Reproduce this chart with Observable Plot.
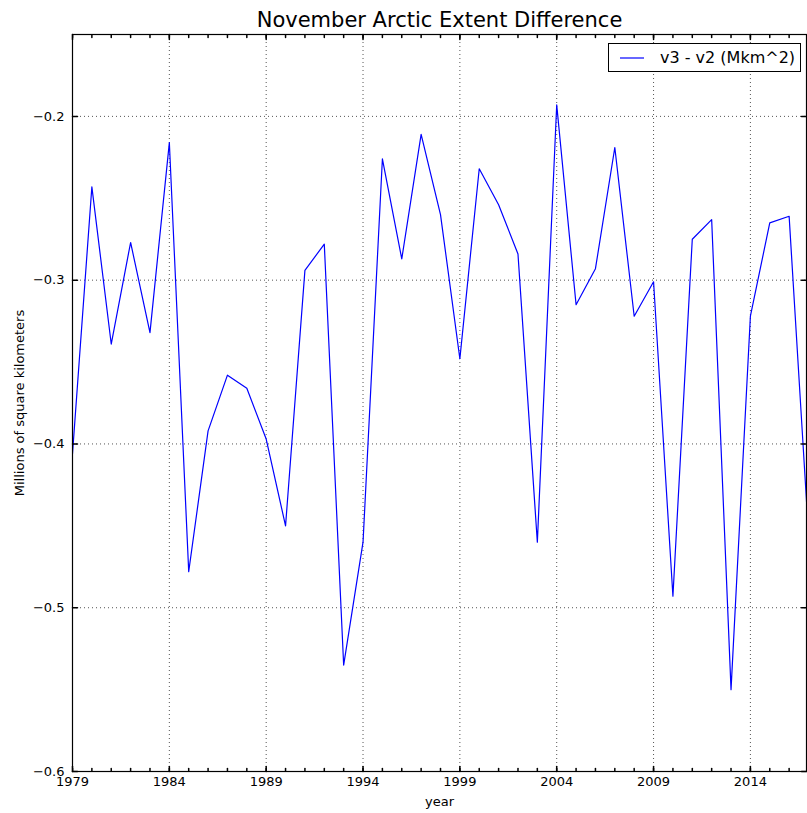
<!DOCTYPE html>
<html>
<head>
<meta charset="utf-8">
<script src="https://cdn.jsdelivr.net/npm/d3@7"></script>
<script src="https://cdn.jsdelivr.net/npm/@observablehq/plot@0.6"></script>
<style>
  html, body { margin: 0; padding: 0; background: #fff; }
  #wrap { position: relative; width: 807px; height: 813px; overflow: hidden; font-family: "DejaVu Sans", sans-serif; }
  #legend { position: absolute; left: 608px; top: 43px; width: 191px; height: 27px; border: 1px solid #000; background: #fff; display: flex; align-items: center; font-size: 16px; color: #000; }
  #legend svg { margin-left: 11px; margin-right: 16px; }
</style>
</head>
<body>
<div id="wrap"></div>
<script>
const years = [1979, 1980, 1981, 1982, 1983, 1984, 1985, 1986, 1987, 1988,
  1989, 1990, 1991, 1992, 1993, 1994, 1995, 1996, 1997, 1998,
  1999, 2000, 2001, 2002, 2003, 2004, 2005, 2006, 2007, 2008,
  2009, 2010, 2011, 2012, 2013, 2014, 2015, 2016, 2017];
const diffValues = [-0.406, -0.243, -0.339, -0.277, -0.332, -0.216, -0.478, -0.392, -0.358, -0.366,
  -0.397, -0.450, -0.294, -0.278, -0.535, -0.460, -0.226, -0.287, -0.211, -0.260,
  -0.348, -0.232, -0.254, -0.284, -0.460, -0.193, -0.315, -0.293, -0.219, -0.322,
  -0.301, -0.493, -0.275, -0.263, -0.550, -0.322, -0.265, -0.261, -0.455];
const xMajorTicks = [1979, 1984, 1989, 1994, 1999, 2004, 2009, 2014];
const xMinorTicks = years;
const yTicks = [-0.6, -0.5, -0.4, -0.3, -0.2];
const seriesName = "v3 - v2 (Mkm^2)";
const titleText = "November Arctic Extent Difference";
const xLabel = "year";
const yLabel = "Millions of square kilometers";

const data = years.map((y, i) => ({year: y, value: diffValues[i]}));

const tickShape = {draw(context, l) { context.moveTo(0, 0); context.lineTo(0, -l); }};
const grid = {stroke: "#555", strokeWidth: 1, strokeDasharray: "1,3"};

const chart = Plot.plot({
  width: 807,
  height: 813,
  marginLeft: 72,
  marginRight: 1,
  marginTop: 34,
  marginBottom: 42,
  style: {fontFamily: "DejaVu Sans, sans-serif", fontSize: "13px", color: "#000", background: "#fff"},
  x: {domain: [1979, 2017], range: [72, 808]},
  y: {domain: [-0.6, -0.15]},
  marks: [
    Plot.ruleX(xMajorTicks, {x: d => d, ...grid}),
    Plot.ruleY(yTicks, {y: d => d, ...grid}),
    Plot.line(data, {x: "year", y: "value", stroke: "#0000ff", strokeWidth: 1.2, clip: true}),
    Plot.frame({stroke: "#000", strokeWidth: 1.2}),
    // inward ticks
    Plot.vector(xMajorTicks, {x: d => d, frameAnchor: "bottom", length: 5, rotate: 0, anchor: "start", shape: tickShape, stroke: "#000"}),
    Plot.vector(xMajorTicks, {x: d => d, frameAnchor: "top", length: 5, rotate: 180, anchor: "start", shape: tickShape, stroke: "#000"}),
    Plot.vector(xMinorTicks, {x: d => d, frameAnchor: "bottom", length: 3, rotate: 0, anchor: "start", shape: tickShape, stroke: "#000", clip: true}),
    Plot.vector(xMinorTicks, {x: d => d, frameAnchor: "top", length: 3, rotate: 180, anchor: "start", shape: tickShape, stroke: "#000", clip: true}),
    Plot.vector(yTicks, {y: d => d, frameAnchor: "left", length: 5, rotate: 90, anchor: "start", shape: tickShape, stroke: "#000"}),
    Plot.vector(yTicks, {y: d => d, frameAnchor: "right", length: 5, rotate: -90, anchor: "start", shape: tickShape, stroke: "#000"}),
    // tick labels
    Plot.axisX({ticks: xMajorTicks, tickSize: 0, tickPadding: 5, tickFormat: d => String(d), label: null, fontSize: 13}),
    Plot.axisY({ticks: yTicks, tickSize: 0, tickPadding: 8, tickFormat: d => d3.format(".1f")(d), label: null, fontSize: 13}),
    // labels
    Plot.text([xLabel], {text: d => d, frameAnchor: "bottom", lineAnchor: "middle", textAnchor: "middle", dy: 30, fontSize: 13, fill: "#000"}),
    Plot.text([yLabel], {text: d => d, frameAnchor: "left", lineAnchor: "middle", textAnchor: "middle", dx: -53, rotate: -90, fontSize: 13, fill: "#000"}),
    Plot.text([titleText], {text: d => d, frameAnchor: "top", lineAnchor: "middle", textAnchor: "middle", dy: -14, fontSize: 21, fill: "#000"})
  ]
});

const wrap = document.getElementById("wrap");
wrap.appendChild(chart);

const legend = document.createElement("div");
legend.id = "legend";
legend.innerHTML = `<svg width="24" height="4"><line x1="0" x2="24" y1="2" y2="2" stroke="#0000ff" stroke-width="1.2"></line></svg><span></span>`;
legend.querySelector("span").textContent = seriesName;
wrap.appendChild(legend);
</script>
</body>
</html>
